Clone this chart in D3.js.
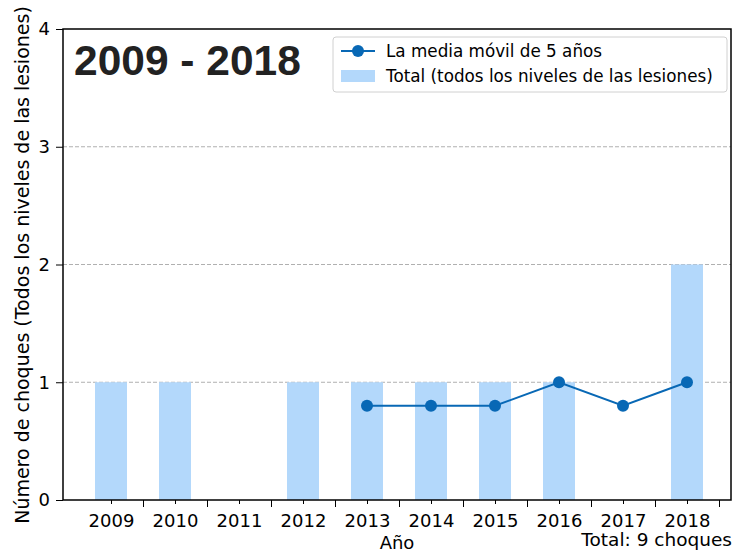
<!DOCTYPE html>
<html>
<head>
<meta charset="utf-8">
<script src="https://cdn.jsdelivr.net/npm/d3@7"></script>
<style>
  body { margin: 0; background: #fff; }
  svg { display: block; font-family: "DejaVu Sans", sans-serif; }
</style>
</head>
<body>
<div id="chart"></div>
<script>
// datos
const years = [2009, 2010, 2011, 2012, 2013, 2014, 2015, 2016, 2017, 2018];
const totals = [1, 1, 0, 1, 1, 1, 1, 1, 0, 2];
const avgYears = [2013, 2014, 2015, 2016, 2017, 2018];
const movingAvg = [0.8, 0.8, 0.8, 1.0, 0.8, 1.0];
const yTicks = [0, 1, 2, 3, 4];

const width = 745, height = 554;
const margin = { top: 29, right: 14, bottom: 54, left: 63 };

const svg = d3.select('#chart')
    .append('svg')
    .attr('width', width)
    .attr('height', height);

// escalas
const x = d3.scaleLinear()
    .domain([2008.25, 2018.6875])
    .range([margin.left, width - margin.right]);

const y = d3.scaleLinear()
    .domain([0, 4])
    .range([height - margin.bottom, margin.top]);

const barW = 32;

// rejilla
svg.append('g')
    .selectAll('line')
    .data(yTicks.filter(d => d > 0 && d < 4))
    .join('line')
    .attr('x1', margin.left)
    .attr('x2', width - margin.right)
    .attr('y1', d => y(d))
    .attr('y2', d => y(d))
    .attr('stroke', '#b0b0b0')
    .attr('stroke-width', 1)
    .attr('stroke-dasharray', '4,2');

// barras
svg.append('g')
    .selectAll('rect')
    .data(years.map((yr, i) => ({ yr, v: totals[i] })))
    .join('rect')
    .attr('x', d => x(d.yr) - barW / 2)
    .attr('y', d => y(d.v))
    .attr('width', barW)
    .attr('height', d => y(0) - y(d.v))
    .attr('fill', '#b3d8fb');

// media móvil
const avgData = avgYears.map((yr, i) => ({ yr, v: movingAvg[i] }));
const line = d3.line()
    .x(d => x(d.yr))
    .y(d => y(d.v));

svg.append('path')
    .datum(avgData)
    .attr('fill', 'none')
    .attr('stroke', '#0868b5')
    .attr('stroke-width', 2)
    .attr('d', line);

svg.append('g')
    .selectAll('circle')
    .data(avgData)
    .join('circle')
    .attr('cx', d => x(d.yr))
    .attr('cy', d => y(d.v))
    .attr('r', 6)
    .attr('fill', '#0868b5');

// ejes
const xAxisMajor = g => g
    .attr('transform', `translate(0,${y(0)})`)
    .call(d3.axisBottom(x).tickValues(years.map(d => d + 0.5)).tickSize(7).tickFormat(''))
    .call(g => g.select('.domain').remove());

const xAxisMinor = g => g
    .attr('transform', `translate(0,${y(0)})`)
    .call(d3.axisBottom(x).tickValues(years).tickSize(4).tickPadding(10).tickFormat(d3.format('d')))
    .call(g => g.select('.domain').remove())
    .call(g => g.selectAll('text')
        .style('font-size', '18px')
        .style('font-family', '"DejaVu Sans", sans-serif')
        .attr('fill', '#000'));

const yAxis = g => g
    .attr('transform', `translate(${margin.left},0)`)
    .call(d3.axisLeft(y).tickValues(yTicks).tickSize(7).tickPadding(6).tickFormat(d3.format('d')))
    .call(g => g.select('.domain').remove())
    .call(g => g.selectAll('text')
        .style('font-size', '18px')
        .style('font-family', '"DejaVu Sans", sans-serif')
        .attr('fill', '#000'));

svg.append('g').call(xAxisMajor);
svg.append('g').call(xAxisMinor);
svg.append('g').call(yAxis);

// marco
svg.append('rect')
    .attr('x', margin.left)
    .attr('y', margin.top)
    .attr('width', width - margin.left - margin.right)
    .attr('height', height - margin.top - margin.bottom)
    .attr('fill', 'none')
    .attr('stroke', '#000')
    .attr('stroke-width', 1.5);

// título
svg.append('text')
    .attr('x', 74)
    .attr('y', 75)
    .style('font-family', '"Liberation Sans", Arial, sans-serif')
    .style('font-weight', 'bold')
    .style('font-size', '42.5px')
    .attr('fill', '#222')
    .text('2009 - 2018');

// leyenda
const legend = svg.append('g')
    .attr('transform', 'translate(333,37)');

legend.append('rect')
    .attr('width', 394)
    .attr('height', 55)
    .attr('rx', 3)
    .attr('fill', '#fff')
    .attr('stroke', '#d0d0d0')
    .attr('stroke-width', 1);

legend.append('line')
    .attr('x1', 8).attr('x2', 42)
    .attr('y1', 14).attr('y2', 14)
    .attr('stroke', '#0868b5')
    .attr('stroke-width', 2);

legend.append('circle')
    .attr('cx', 25).attr('cy', 14).attr('r', 6)
    .attr('fill', '#0868b5');

legend.append('rect')
    .attr('x', 8).attr('y', 33)
    .attr('width', 34).attr('height', 12)
    .attr('fill', '#b3d8fb');

legend.append('text')
    .attr('x', 53).attr('y', 20)
    .style('font-size', '16.8px')
    .text('La media móvil de 5 años');

legend.append('text')
    .attr('x', 53).attr('y', 45)
    .style('font-size', '16.8px')
    .text('Total (todos los niveles de las lesiones)');

// títulos de ejes
svg.append('text')
    .attr('transform', 'translate(29,265) rotate(-90)')
    .attr('text-anchor', 'middle')
    .style('font-size', '19px')
    .text('Número de choques (Todos los niveles de las lesiones)');

svg.append('text')
    .attr('x', 397)
    .attr('y', 549)
    .attr('text-anchor', 'middle')
    .style('font-size', '18px')
    .text('Año');

svg.append('text')
    .attr('x', 732)
    .attr('y', 546)
    .attr('text-anchor', 'end')
    .style('font-size', '18.5px')
    .text('Total: 9 choques');
</script>
</body>
</html>
